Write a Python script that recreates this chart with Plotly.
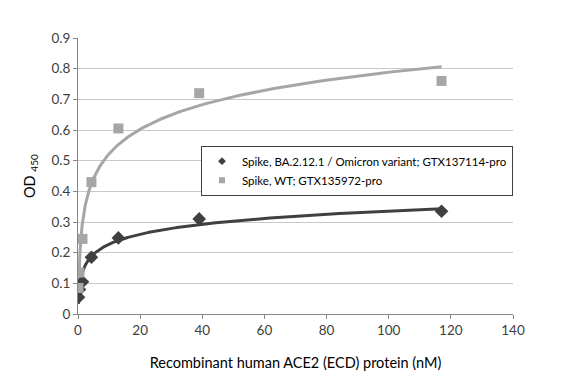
import numpy as np
import plotly.graph_objects as go

# Data (3-fold dilution series, nM)
conc_nM = [0.16, 0.48, 1.44, 4.33, 13, 39, 117]
od_omicron = [0.055, 0.08, 0.105, 0.185, 0.248, 0.31, 0.335]
od_wt = [0.085, 0.135, 0.245, 0.43, 0.605, 0.72, 0.76]

name_omicron = "Spike, BA.2.12.1 / Omicron variant; GTX137114-pro"
name_wt = "Spike, WT; GTX135972-pro"

x_ticks = [0, 20, 40, 60, 80, 100, 120, 140]
y_ticks = [0, 0.1, 0.2, 0.3, 0.4, 0.5, 0.6, 0.7, 0.8, 0.9]

col_dark = "#404040"
col_light = "#a6a6a6"


def log_trend(xs, ys):
    a, b = np.polyfit(np.log(xs), ys, 1)
    xx = np.exp(np.linspace(np.log(min(xs)), np.log(max(xs)), 300))
    return xx, a * np.log(xx) + b


fig = go.Figure()
for xs, ys, col in [(conc_nM, od_wt, col_light), (conc_nM, od_omicron, col_dark)]:
    tx, ty = log_trend(np.array(xs), np.array(ys))
    fig.add_trace(go.Scatter(x=tx, y=ty, mode="lines", line=dict(color=col, width=3),
                             showlegend=False, hoverinfo="skip"))

fig.add_trace(go.Scatter(x=conc_nM, y=od_omicron, mode="markers", name=name_omicron,
                         legendgroup="o", showlegend=False,
                         marker=dict(symbol="diamond", size=10.5, color=col_dark)))
fig.add_trace(go.Scatter(x=conc_nM, y=od_wt, mode="markers", name=name_wt,
                         legendgroup="w", showlegend=False,
                         marker=dict(symbol="square", size=10, color=col_light)))
# legend entries (small symbols, as in the reference legend)
fig.add_trace(go.Scatter(x=[None], y=[None], mode="markers", name=name_omicron,
                         legendgroup="o",
                         marker=dict(symbol="diamond", size=6, color=col_dark)))
fig.add_trace(go.Scatter(x=[None], y=[None], mode="markers", name=name_wt,
                         legendgroup="w",
                         marker=dict(symbol="square", size=6, color=col_light)))

font_family = "Lato, 'Open Sans', sans-serif"
fig.update_layout(
    width=574, height=374,
    margin=dict(l=70, r=69, t=30, b=68),
    paper_bgcolor="white", plot_bgcolor="white",
    font=dict(family=font_family, size=13.5, color="#404040"),
    legend=dict(x=1.0, y=0.61, xanchor="right", yanchor="top",
                bordercolor="#404040", borderwidth=1, bgcolor="white",
                font=dict(size=11.5, color="#000000"),
                itemwidth=30, tracegroupgap=0),
    xaxis=dict(range=[0, 140], tickvals=x_ticks, showgrid=False, zeroline=False,
               showline=True, linecolor="#868686", linewidth=1,
               ticks="outside", ticklen=4, tickcolor="#868686", automargin=False,
               title=dict(text="Recombinant human ACE2 (ECD) protein (nM)",
                          font=dict(size=14.5, color="#000000"), standoff=20)),
    yaxis=dict(range=[0, 0.9], tickvals=y_ticks, showgrid=True, gridcolor="#c8c8c8",
               gridwidth=1, zeroline=False, showline=True, linecolor="#868686",
               ticks="outside", ticklen=4, tickcolor="#868686", automargin=False,
               title=dict(text="OD <sub>450</sub>", font=dict(size=14.5, color="#000000"),
                          standoff=12)),
)

fig.write_html("out.html")
